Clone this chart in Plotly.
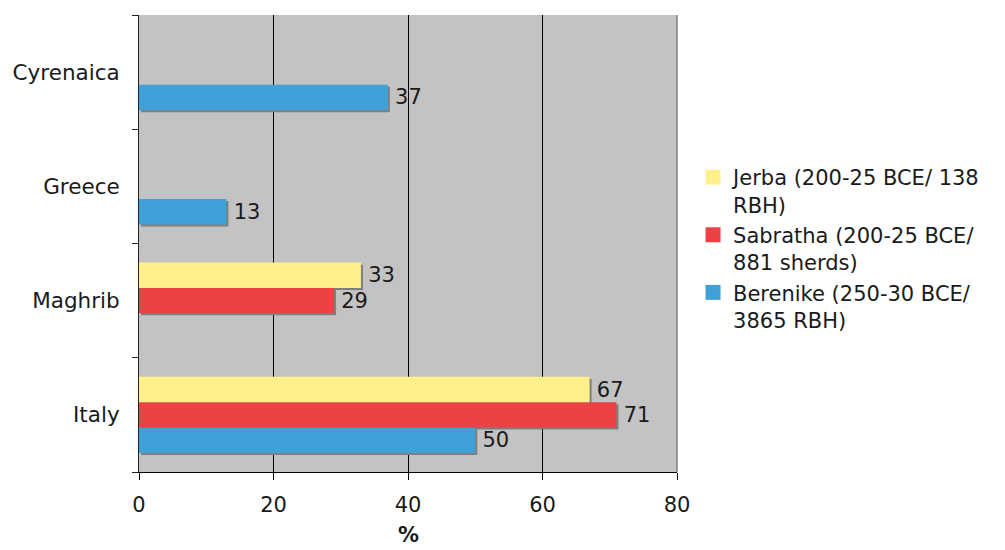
import plotly.graph_objects as go

# Origin regions (bottom to top on the axis)
regions = ["Italy", "Maghrib", "Greece", "Cyrenaica"]

# Share of amphorae (%) by site assemblage
berenike = [50, None, 13, 37]
sabratha = [71, 29, None, None]
jerba = [67, 33, None, None]

series = [
    ("Berenike (250-30 BCE/<br>3865 RBH)", berenike, "#40a0d8"),
    ("Sabratha (200-25 BCE/<br>881 sherds)", sabratha, "#ee4146"),
    ("Jerba (200-25 BCE/ 138<br>RBH)", jerba, "#fff08a"),
]

x_ticks = [0, 20, 40, 60, 80]

FONT = "DejaVu Sans"
TXT = "#1a1a1a"
BAR_W = 0.222          # thickness of one bar in category units
SHADOW_DX = 0.3        # shadow shift along x (data units)
SHADOW_DY = 0.018      # shadow shift along y (category units)

fig = go.Figure()

offsets = [-1.5 * BAR_W, -0.5 * BAR_W, 0.5 * BAR_W]

# drop shadows first so the coloured bars sit on top
for (name, vals, color), off in zip(series, offsets):
    fig.add_trace(go.Bar(
        y=regions, x=vals, orientation="h",
        base=SHADOW_DX, width=BAR_W, offset=off - SHADOW_DY,
        marker=dict(color="#7f7f7f", line=dict(width=0)),
        showlegend=False, hoverinfo="skip",
    ))

for (name, vals, color), off in zip(series, offsets):
    fig.add_trace(go.Bar(
        y=regions, x=vals, orientation="h", name=name,
        width=BAR_W, offset=off,
        marker=dict(color=color, line=dict(width=0)),
        text=[("" if v is None else "\u2009" + str(v)) for v in vals],
        textposition="outside", constraintext="none", cliponaxis=False,
        textfont=dict(family=FONT, size=21, color=TXT),
        showlegend=False, hoverinfo="x+name",
    ))

# legend entries with larger square swatches
for name, vals, color in series:
    fig.add_trace(go.Scatter(
        x=[None], y=[None], mode="markers", name=name,
        marker=dict(symbol="square", size=15, color=color),
        showlegend=True,
    ))

fig.update_layout(
    width=1005, height=550,
    margin=dict(l=139, r=328, t=15, b=78),
    paper_bgcolor="white",
    plot_bgcolor="#c3c3c3",
    barmode="overlay",
    font=dict(family=FONT, size=21, color=TXT),
    legend=dict(
        xref="container", yref="container",
        x=0.6896, xanchor="left", y=0.7145, yanchor="top",
        traceorder="reversed", valign="top",
        font=dict(family=FONT, size=21, color=TXT),
        bgcolor="rgba(0,0,0,0)", tracegroupgap=0,
    ),
    xaxis=dict(
        range=[0, 80], tickvals=x_ticks, ticktext=[str(t) for t in x_ticks],
        showgrid=True, gridcolor="#000000", gridwidth=1,
        zeroline=False, showline=True, linecolor="#000000", linewidth=1,
        ticks="outside", ticklen=7, tickcolor="#000000",
        ticklabelstandoff=7,
        tickfont=dict(family=FONT, size=21, color=TXT),
        automargin=False,
    ),
    yaxis=dict(
        type="category", categoryorder="array", categoryarray=regions,
        range=[-0.5, 3.5],
        showgrid=False, zeroline=False,
        showline=True, linecolor="#222222", linewidth=1,
        ticks="outside", ticklen=6, tickcolor="#222222",
        tickson="boundaries", ticklabelstandoff=14,
        tickfont=dict(family=FONT, size=21.5, color=TXT),
        automargin=False,
    ),
    # x-axis title placed below the tick labels
    annotations=[dict(text="<b>%</b>", xref="paper", yref="paper",
                      x=0.5, y=-0.108, xanchor="center", yanchor="top",
                      showarrow=False,
                      font=dict(family=FONT, size=21, color=TXT))],
    shapes=[dict(type="line", xref="paper", yref="paper",
                 x0=1, x1=1, y0=0, y1=1,
                 line=dict(color="#808080", width=1.5), layer="above")],
)

fig.write_html("out.html")
